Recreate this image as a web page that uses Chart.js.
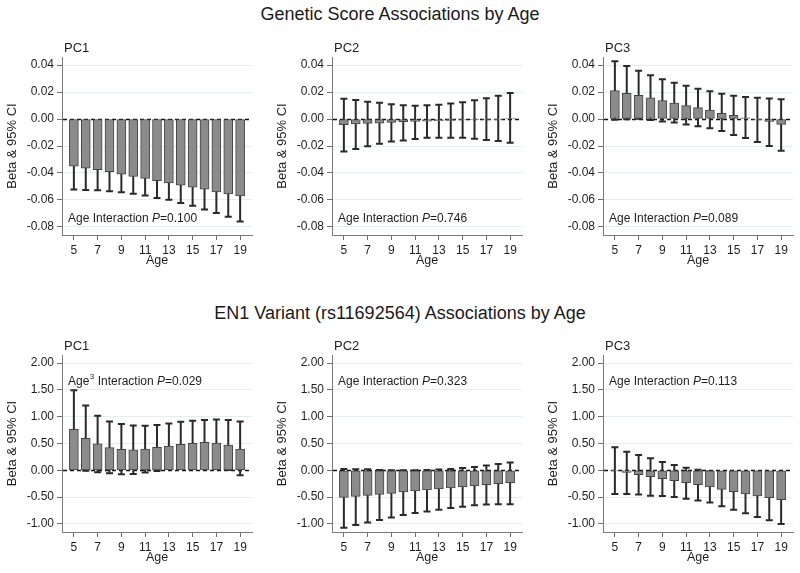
<!DOCTYPE html>
<html>
<head>
<meta charset="utf-8">
<script src="https://cdn.jsdelivr.net/npm/chart.js@4.4.1/dist/chart.umd.min.js"></script>
<style>
  html, body { margin: 0; padding: 0; background: #fff; }
  body { width: 800px; height: 573px; position: relative; overflow: hidden; font-family: "Liberation Sans", Arial, sans-serif; }
  .main-title { position: absolute; left: 0; width: 800px; text-align: center; font-size: 18px; line-height: 18px; color: #1a1a1a; }
  canvas { position: absolute; }
</style>
</head>
<body>
<div class="main-title" style="top:5px">Genetic Score Associations by Age</div>
<div class="main-title" style="top:304px">EN1 Variant (rs11692564) Associations by Age</div>
<canvas id="c0"></canvas>
<canvas id="c1"></canvas>
<canvas id="c2"></canvas>
<canvas id="c3"></canvas>
<canvas id="c4"></canvas>
<canvas id="c5"></canvas>
<script>
// ---------- DATA ----------
const ages = [5,6,7,8,9,10,11,12,13,14,15,16,17,18,19];
const ageTicks = [5,7,9,11,13,15,17,19];
const yTicksGS = [-0.08,-0.06,-0.04,-0.02,0,0.02,0.04];
const yTicksEN1 = [-1,-0.5,0,0.5,1,1.5,2];
const panelNames = ['PC1','PC2','PC3'];

// Genetic score
const gsPC1Beta = [-0.0349,-0.0364,-0.0376,-0.0390,-0.0408,-0.0426,-0.0441,-0.0458,-0.0473,-0.0490,-0.0506,-0.0520,-0.0540,-0.0555,-0.0570];
const gsPC1Lo   = [-0.0523,-0.0526,-0.0528,-0.0535,-0.0543,-0.0555,-0.0568,-0.0585,-0.0598,-0.0623,-0.0643,-0.0670,-0.0697,-0.0725,-0.0760];
const gsPC1Hi   = [-0.0175,-0.0202,-0.0224,-0.0245,-0.0273,-0.0297,-0.0314,-0.0331,-0.0348,-0.0357,-0.0369,-0.0370,-0.0383,-0.0385,-0.0380];

const gsPC2Beta = [-0.0041,-0.0037,-0.0032,-0.0030,-0.0025,-0.0020,-0.0017,-0.0015,-0.0012,-0.0010,-0.0007,-0.0005,-0.0003,-0.0002,0.0001];
const gsPC2Lo   = [-0.0241,-0.0222,-0.0202,-0.0183,-0.0166,-0.0159,-0.0149,-0.0139,-0.0139,-0.0139,-0.0139,-0.0146,-0.0156,-0.0163,-0.0176];
const gsPC2Hi   = [0.0151,0.0141,0.0129,0.0120,0.0110,0.0102,0.0098,0.0102,0.0105,0.0115,0.0124,0.0139,0.0154,0.0173,0.0193];

const gsPC3Beta = [0.0211,0.0190,0.0175,0.0157,0.0137,0.0119,0.0099,0.0084,0.0066,0.0043,0.0028,0.0008,-0.0005,-0.0018,-0.0040];
const gsPC3Lo   = [-0.0005,-0.0001,0.0003,-0.0008,-0.0018,-0.0025,-0.0040,-0.0053,-0.0069,-0.0089,-0.0119,-0.0140,-0.0170,-0.0200,-0.0236];
const gsPC3Hi   = [0.0429,0.0394,0.0358,0.0325,0.0295,0.0269,0.0246,0.0224,0.0206,0.0188,0.0173,0.0163,0.0157,0.0152,0.0147];

// EN1 variant
const en1PC1Beta = [0.762,0.595,0.496,0.422,0.390,0.384,0.397,0.428,0.453,0.484,0.502,0.521,0.508,0.471,0.397];
const en1PC1Lo   = [0.030,-0.010,-0.037,-0.056,-0.074,-0.068,-0.043,-0.012,0.032,0.063,0.080,0.106,0.067,0.006,-0.093];
const en1PC1Hi   = [1.494,1.209,1.017,0.911,0.862,0.837,0.831,0.843,0.874,0.905,0.924,0.936,0.949,0.936,0.911];

const en1PC2Beta = [-0.506,-0.487,-0.468,-0.449,-0.430,-0.405,-0.386,-0.367,-0.348,-0.329,-0.310,-0.291,-0.266,-0.247,-0.228];
const en1PC2Lo   = [-1.070,-1.020,-0.975,-0.924,-0.880,-0.835,-0.797,-0.766,-0.734,-0.703,-0.677,-0.652,-0.639,-0.633,-0.633];
const en1PC2Hi   = [0.025,0.019,0.019,0.006,0.003,0.000,0.000,0.006,0.013,0.025,0.044,0.063,0.089,0.120,0.146];

const en1PC3Beta = [-0.005,-0.037,-0.081,-0.118,-0.155,-0.193,-0.230,-0.267,-0.311,-0.354,-0.398,-0.441,-0.478,-0.509,-0.547];
const en1PC3Lo   = [-0.441,-0.441,-0.453,-0.472,-0.478,-0.497,-0.528,-0.565,-0.602,-0.671,-0.733,-0.801,-0.870,-0.932,-1.000];
const en1PC3Hi   = [0.429,0.348,0.286,0.224,0.155,0.099,0.050,0.012,-0.020,-0.037,-0.063,-0.081,-0.086,-0.086,-0.094];

const gsPValues  = ['0.100','0.746','0.089'];
const en1PValues = ['0.029','0.323','0.113'];
const en1Powers  = ['3','',''];

// ---------- STYLE / LAYOUT ----------
const FONT = '"Liberation Sans", Arial, sans-serif';
Chart.defaults.font.family = FONT;
Chart.defaults.color = '#1e1e1e';

const panelLeft = [0, 270, 541];
const rows = [
  { top: 30, height: 242, min: -0.086, max: 0.046, ticks: yTicksGS, annotAtBottom: true },
  { top: 328, height: 241, min: -1.15, max: 2.15, ticks: yTicksEN1, annotAtBottom: false }
];

const panels = [
  { row: 0, col: 0, beta: gsPC1Beta, lo: gsPC1Lo, hi: gsPC1Hi, p: gsPValues[0], pow: '' },
  { row: 0, col: 1, beta: gsPC2Beta, lo: gsPC2Lo, hi: gsPC2Hi, p: gsPValues[1], pow: '' },
  { row: 0, col: 2, beta: gsPC3Beta, lo: gsPC3Lo, hi: gsPC3Hi, p: gsPValues[2], pow: '' },
  { row: 1, col: 0, beta: en1PC1Beta, lo: en1PC1Lo, hi: en1PC1Hi, p: en1PValues[0], pow: en1Powers[0] },
  { row: 1, col: 1, beta: en1PC2Beta, lo: en1PC2Lo, hi: en1PC2Hi, p: en1PValues[1], pow: en1Powers[1] },
  { row: 1, col: 2, beta: en1PC3Beta, lo: en1PC3Lo, hi: en1PC3Hi, p: en1PValues[2], pow: en1Powers[2] }
];

const errorBarPlugin = {
  id: 'errorBars',
  beforeDatasetsDraw(chart) {
    const { ctx, chartArea, scales: { x, y } } = chart;
    const pc = chart.options.plugins.errorBars;
    ctx.save();
    // dashed zero line
    const y0 = Math.round(y.getPixelForValue(0)) + 0.5;
    ctx.strokeStyle = '#111';
    ctx.lineWidth = 1.3;
    ctx.setLineDash([4, 3]);
    ctx.beginPath();
    ctx.moveTo(chartArea.left + 1, y0);
    ctx.lineTo(chartArea.right, y0);
    ctx.stroke();
    ctx.setLineDash([]);
    // error bars (drawn under the bars)
    ctx.strokeStyle = '#2a2a2a';
    ctx.lineWidth = 2;
    const capHalf = 3.5;
    pc.ages.forEach((a, i) => {
      const px = x.getPixelForValue(a);
      const pLo = y.getPixelForValue(pc.lo[i]);
      const pHi = y.getPixelForValue(pc.hi[i]);
      ctx.beginPath();
      ctx.moveTo(px, pLo); ctx.lineTo(px, pHi);
      ctx.moveTo(px - capHalf, pLo); ctx.lineTo(px + capHalf, pLo);
      ctx.moveTo(px - capHalf, pHi); ctx.lineTo(px + capHalf, pHi);
      ctx.stroke();
    });
    ctx.restore();
  },
  afterDraw(chart) {
    const { ctx, chartArea } = chart;
    const pc = chart.options.plugins.errorBars;
    ctx.save();
    ctx.fillStyle = '#1e1e1e';
    ctx.textBaseline = 'middle';
    ctx.textAlign = 'left';
    // panel label
    ctx.font = '13px ' + FONT;
    ctx.fillText(pc.name, chartArea.left + 2, chartArea.top - 9);
    // annotation
    const ay = pc.annotAtBottom ? chartArea.bottom - 16 : chartArea.top + 27;
    let ax = chartArea.left + 6;
    ctx.font = '12px ' + FONT;
    ctx.fillText('Age', ax, ay); ax += ctx.measureText('Age').width;
    if (pc.pow) {
      ctx.font = '8px ' + FONT;
      ctx.fillText(pc.pow, ax + 0.5, ay - 5); ax += ctx.measureText(pc.pow).width + 0.5;
      ctx.font = '12px ' + FONT;
    }
    const mid = ' Interaction ';
    ctx.fillText(mid, ax, ay); ax += ctx.measureText(mid).width;
    ctx.font = 'italic 12px ' + FONT;
    ctx.fillText('P', ax, ay); ax += ctx.measureText('P').width;
    ctx.font = '12px ' + FONT;
    ctx.fillText('=' + pc.p, ax, ay);
    ctx.restore();
  }
};

panels.forEach((p, k) => {
  const r = rows[p.row];
  const cv = document.getElementById('c' + k);
  cv.width = 258; cv.height = r.height;
  cv.style.left = panelLeft[p.col] + 'px';
  cv.style.top = r.top + 'px';
  cv.style.width = '258px'; cv.style.height = r.height + 'px';
  new Chart(cv, {
    type: 'bar',
    data: {
      datasets: [{
        data: ages.map((a, i) => ({ x: a, y: p.beta[i] })),
        backgroundColor: '#8b8b8b',
        borderColor: '#444444',
        borderWidth: 1,
        borderSkipped: false,
        barThickness: 9
      }]
    },
    options: {
      responsive: false,
      animation: false,
      devicePixelRatio: 1,
      layout: { padding: { top: 27, right: 6, bottom: 0, left: 0 } },
      plugins: {
        legend: { display: false },
        tooltip: { enabled: false },
        errorBars: { ages: ages, lo: p.lo, hi: p.hi, name: panelNames[p.col], p: p.p, pow: p.pow, annotAtBottom: r.annotAtBottom }
      },
      scales: {
        x: {
          type: 'linear',
          offset: false,
          min: 4, max: 20,
          afterBuildTicks: s => { s.ticks = ageTicks.map(v => ({ value: v })); },
          afterFit: s => { s.height = 37; },
          ticks: { font: { size: 12 }, color: '#1e1e1e', padding: 3, maxRotation: 0, autoSkip: false, callback: v => String(v) },
          grid: { offset: false, drawOnChartArea: false, drawTicks: true, tickLength: 5, tickColor: '#6e6e6e' },
          border: { display: true, color: '#7a7a7a', width: 1 },
          title: { display: true, text: 'Age', font: { size: 12.5 }, color: '#1e1e1e', padding: { top: 0, bottom: 4 } }
        },
        y: {
          min: r.min, max: r.max,
          afterBuildTicks: s => { s.ticks = r.ticks.map(v => ({ value: v })); },
          afterFit: s => { s.width = 62; },
          ticks: { font: { size: 12 }, color: '#1e1e1e', padding: 3, callback: v => Number(v).toFixed(2) },
          grid: {
            drawOnChartArea: true, drawTicks: true, tickLength: 5,
            color: ctx => (ctx.tick && ctx.tick.value === 0) ? 'rgba(0,0,0,0)' : '#e3eeee',
            tickColor: '#6e6e6e', lineWidth: 1
          },
          border: { display: true, color: '#7a7a7a', width: 1 },
          title: { display: true, text: 'Beta & 95% CI', font: { size: 13 }, color: '#1e1e1e', padding: { top: 5, bottom: 0 } }
        }
      }
    },
    plugins: [errorBarPlugin]
  });
});
</script>
</body>
</html>
